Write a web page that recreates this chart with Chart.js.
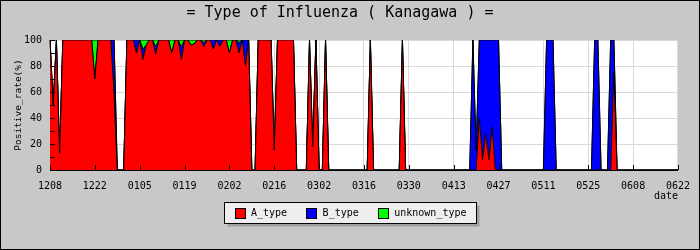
<!DOCTYPE html>
<html><head><meta charset="utf-8">
<script src="https://cdn.jsdelivr.net/npm/chart.js@4"></script>
<style>html,body{margin:0;padding:0;background:#c8c8c8}canvas{display:block}</style>
</head><body>
<canvas id="c" width="700" height="250"></canvas>
<script>
// ---- data ----
const chartTitle = '= Type of Influenza ( Kanagawa ) =';
const startDay = [2010, 11, 8]; // 12/08 (year only used for calendar arithmetic)
const dayCount = 197;
const tickLabels = ['1208','1222','0105','0119','0202','0216','0302','0316','0330','0413','0427','0511','0525','0608','0622'];
const yMinorTicks = [0,10,20,30,40,50,60,70,80,90,100];
const seriesNames = ['A_type','B_type','unknown_type'];

const aType = [
 100,50,100,13,100,100,100,100,100,100,100,100,100,100,
 70,100,100,100,100,100,58,0,0,0,100,100,100,90,
 100,85,96,100,100,89,100,100,100,100,90,100,100,85,
 100,100,96,97,100,100,95,100,100,93,100,95,100,100,
 90,100,100,90,100,80,100,0,0,100,100,100,100,100,
 15,100,100,100,100,100,100,0,0,0,0,100,18,100,
 0,0,100,0,0,0,0,0,0,0,0,0,0,0,
 0,0,100,0,0,0,0,0,0,0,0,0,100,0,
 0,0,0,0,0,0,0,0,0,0,0,0,0,0,
 0,0,0,0,0,0,0,0,40,8,28,8,33,0,
 0,0,0,0,0,0,0,0,0,0,0,0,0,0,
 0,0,0,0,0,0,0,0,0,0,0,0,0,0,
 0,0,0,0,0,0,0,0,75,0,0,0,0,0,
 0,0,0,0,0,0,0,0,0,0,0,0,0,0,
 0
];
const bType = [
 0,0,0,0,0,0,0,0,0,0,0,0,0,0,
 0,0,0,0,0,0,42,0,0,0,0,0,0,10,
 0,8,0,0,0,6,0,0,0,0,0,0,0,10,
 0,0,0,0,0,0,3,0,0,7,0,5,0,0,
 0,0,0,8,0,20,0,0,0,0,0,0,0,0,
 0,0,0,0,0,0,0,0,0,0,0,0,0,0,
 0,0,0,0,0,0,0,0,0,0,0,0,0,0,
 0,0,0,0,0,0,0,0,0,0,0,0,0,0,
 0,0,0,0,0,0,0,0,0,0,0,0,0,0,
 0,0,0,0,0,0,100,15,60,92,72,92,67,100,
 100,0,0,0,0,0,0,0,0,0,0,0,0,0,
 0,100,100,100,0,0,0,0,0,0,0,0,0,0,
 0,0,100,100,0,0,0,100,25,0,0,0,0,0,
 0,0,0,0,0,0,0,0,0,0,0,0,0,0,
 0
];
const unknownType = [
 0,0,0,0,0,0,0,0,0,0,0,0,0,0,
 30,0,0,0,0,0,0,0,0,0,0,0,0,0,
 0,7,4,0,0,5,0,0,0,0,10,0,0,5,
 0,0,4,3,0,0,2,0,0,0,0,0,0,0,
 10,0,0,2,0,0,0,0,0,0,0,0,0,0,
 0,0,0,0,0,0,0,0,0,0,0,0,0,0,
 0,0,0,0,0,0,0,0,0,0,0,0,0,0,
 0,0,0,0,0,0,0,0,0,0,0,0,0,0,
 0,0,0,0,0,0,0,0,0,0,0,0,0,0,
 0,0,0,0,0,0,0,0,0,0,0,0,0,0,
 0,0,0,0,0,0,0,0,0,0,0,0,0,0,
 0,0,0,0,0,0,0,0,0,0,0,0,0,0,
 0,0,0,0,0,0,0,0,0,0,0,0,0,0,
 0,0,0,0,0,0,0,0,0,0,0,0,0,0,
 0
];

// category labels: consecutive days MMDD
const dates = [];
for (let i = 0; i < dayCount; i++) {
  const d = new Date(Date.UTC(startDay[0], startDay[1], startDay[2] + i));
  dates.push(String(d.getUTCMonth() + 1).padStart(2, '0') + String(d.getUTCDate()).padStart(2, '0'));
}

const MONO = 'DejaVu Sans Mono';
const GRID = '#d9d9d9';
const colors = ['#ff0000', '#0000ff', '#00ff00'];

const framePlugin = {
  id: 'frame',
  beforeDraw(chart) {
    const ctx = chart.ctx, a = chart.chartArea;
    ctx.save();
    ctx.fillStyle = '#c8c8c8';
    ctx.fillRect(0, 0, chart.width, chart.height);
    ctx.fillStyle = '#ffffff';
    ctx.fillRect(a.left, a.top, a.right - a.left, a.bottom - a.top);
    ctx.restore();
  },
  afterDatasetsDraw(chart) {
    const ctx = chart.ctx, a = chart.chartArea;
    const xs = chart.scales.x, ys = chart.scales.y;
    ctx.save();
    ctx.strokeStyle = '#000';
    ctx.lineWidth = 1;
    ctx.beginPath();
    yMinorTicks.forEach(v => {
      const y = Math.round(ys.getPixelForValue(v)) + 0.5;
      ctx.moveTo(a.left, y); ctx.lineTo(a.left + 5, y);
    });
    tickLabels.forEach(l => {
      const i = dates.indexOf(l);
      if (i < 0) return;
      const x = Math.round(xs.getPixelForValue(i)) + 0.5;
      ctx.moveTo(x, a.bottom); ctx.lineTo(x, a.bottom - 5);
    });
    ctx.stroke();
    ctx.restore();
  },
  afterDraw(chart) {
    const ctx = chart.ctx;
    ctx.save();
    // legend
    ctx.font = '10px "' + MONO + '"';
    const items = chart.data.datasets.map(ds => ({text: ds.label, color: ds.backgroundColor, w: ctx.measureText(ds.label).width}));
    const pad = 10, sw = 10, gapT = 6.5, gapI = 19;
    let total = pad * 2;
    items.forEach((it, i) => { total += sw + gapT + it.w + (i < items.length - 1 ? gapI : 0); });
    const bx = Math.round((chart.width - total) / 2) + 0.5, by = 202.5, bh = 21;
    ctx.fillStyle = '#a0a0a0';
    ctx.fillRect(bx + 3, by + 3, total, bh);
    ctx.fillStyle = '#eeeeee';
    ctx.fillRect(bx, by, total, bh);
    ctx.strokeStyle = '#000';
    ctx.lineWidth = 1;
    ctx.strokeRect(bx, by, total, bh);
    let x = bx + pad;
    const cy = by + bh / 2;
    ctx.textBaseline = 'middle';
    ctx.textAlign = 'left';
    items.forEach(it => {
      const sx = Math.round(x) + 0.5, sy = Math.round(cy - 5) + 0.5;
      ctx.fillStyle = it.color;
      ctx.fillRect(sx, sy, sw, sw);
      ctx.strokeRect(sx, sy, sw, sw);
      x += sw + gapT;
      ctx.fillStyle = '#000';
      ctx.fillText(it.text, x, cy + 0.5);
      x += it.w + gapI;
    });
    // outer border
    ctx.strokeStyle = '#000';
    ctx.strokeRect(0.5, 0.5, chart.width - 1, chart.height - 1);
    ctx.restore();
  }
};

new Chart(document.getElementById('c'), {
  type: 'line',
  data: {
    labels: dates,
    datasets: [
      {label: seriesNames[0], data: aType, backgroundColor: colors[0], fill: 'origin'},
      {label: seriesNames[1], data: bType, backgroundColor: colors[1], fill: '-1'},
      {label: seriesNames[2], data: unknownType, backgroundColor: colors[2], fill: '-1'}
    ]
  },
  options: {
    responsive: false,
    animation: false,
    devicePixelRatio: 1,
    events: [],
    layout: {padding: {left: 0, right: 20, top: 0, bottom: 0}},
    elements: {
      point: {radius: 0, hoverRadius: 0},
      line: {borderWidth: 1, borderColor: '#000', tension: 0}
    },
    plugins: {
      legend: {display: false},
      tooltip: {enabled: false},
      title: {
        display: true, text: chartTitle, color: '#000',
        font: {family: MONO, size: 15, weight: 'normal'},
        padding: {top: 4, bottom: 18}
      }
    },
    scales: {
      x: {
        grid: {
          drawTicks: false,
          color: c => (tickLabels.includes(dates[c.index]) ? GRID : 'rgba(0,0,0,0)')
        },
        border: {color: '#000'},
        ticks: {
          autoSkip: false, maxRotation: 0, minRotation: 0, padding: 10, color: '#000',
          font: {family: MONO, size: 10},
          callback: (v, i) => (tickLabels.includes(dates[i]) ? dates[i] : '')
        },
        title: {
          display: true, text: 'date', align: 'end', color: '#000',
          font: {family: MONO, size: 10}, padding: {top: 0, bottom: 48}
        },
        afterFit: s => { s.height = 80; }
      },
      y: {
        stacked: true, min: 0, max: 100,
        grid: {drawTicks: false, color: GRID},
        border: {color: '#000'},
        ticks: {stepSize: 20, padding: 8, color: '#000', font: {family: MONO, size: 10}},
        title: {
          display: true, text: 'Positive_rate(%)', color: '#000',
          font: {family: MONO, size: 9.5}, padding: {top: 13, bottom: 0}
        },
        afterFit: s => { s.width = 50; }
      }
    }
  },
  plugins: [framePlugin]
});
</script>
</body></html>
